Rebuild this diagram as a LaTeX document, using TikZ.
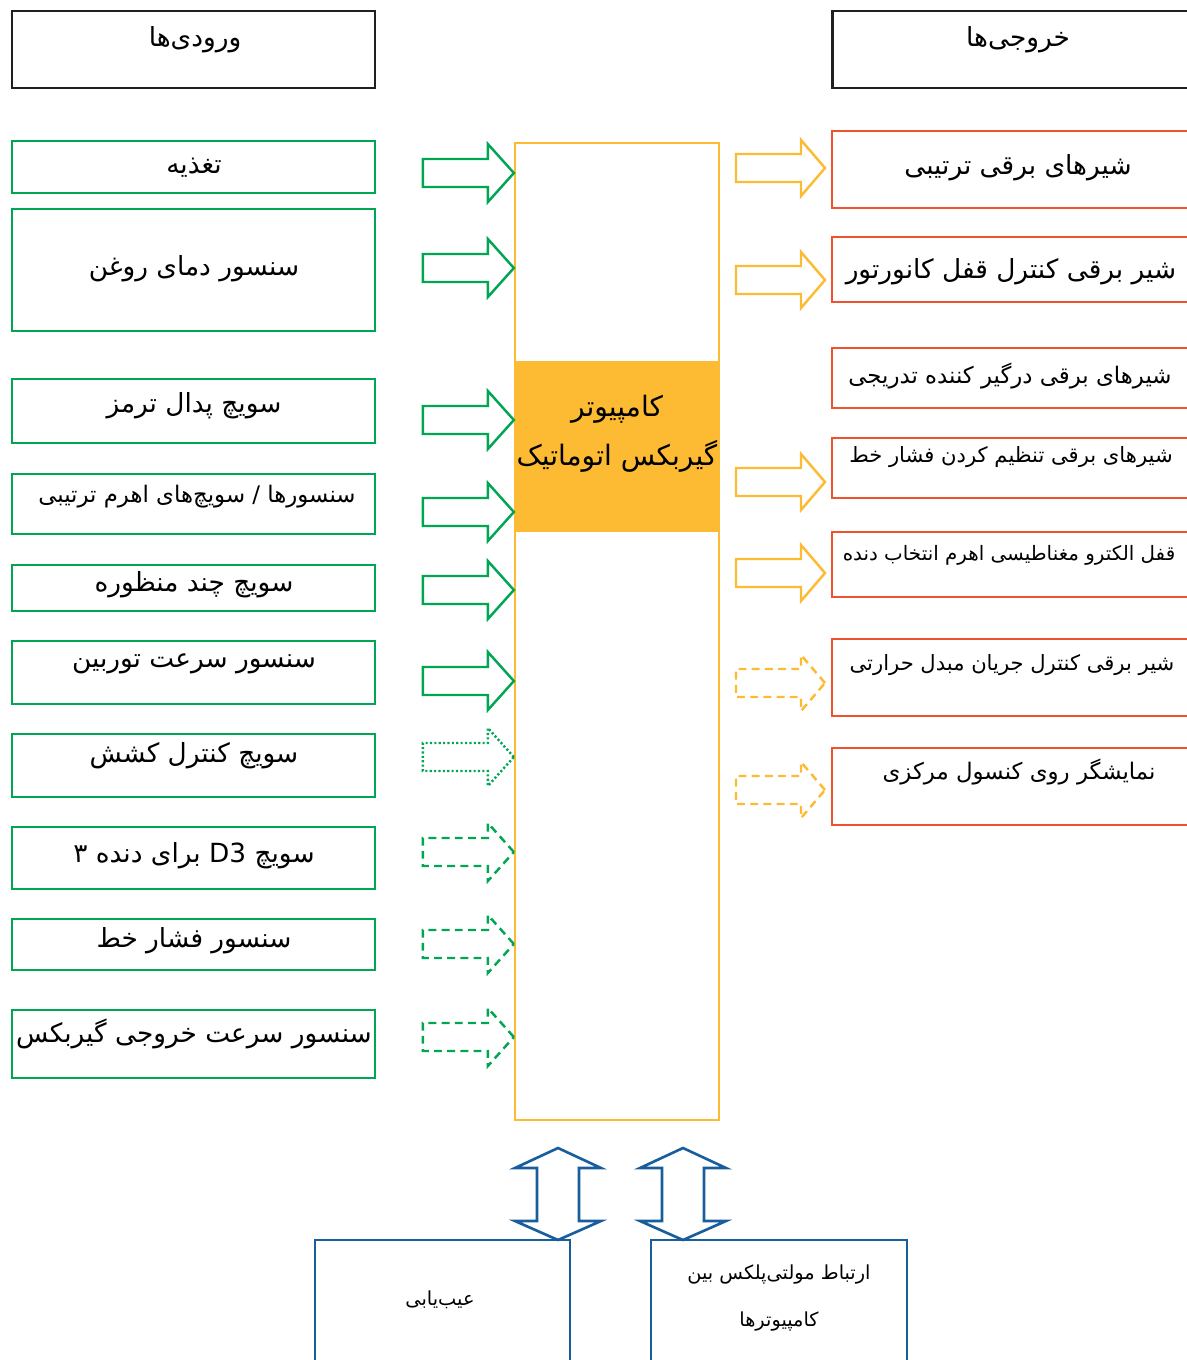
\documentclass[tikz,border=0pt]{standalone}
\usepackage{fontspec}
\newfontfamily\fafont[Script=Arabic]{DejaVu Sans}
\TeXXeTstate=1
\usetikzlibrary{fit}
\definecolor{ingreen}{RGB}{0,166,81}
\definecolor{cpuorange}{RGB}{253,187,51}
\definecolor{outred}{RGB}{239,83,46}
\definecolor{diagblue}{RGB}{24,94,156}
\definecolor{headblack}{RGB}{35,31,32}
\newcommand\fa[1]{\beginR #1\endR}

\begin{document}
\begin{tikzpicture}[
    x=0.02cm,y=-0.02cm,
    every node/.style={font=\fafont\fontsize{15}{18}\selectfont, inner sep=0pt},
    midtxt/.style={font=\fafont\fontsize{13}{16}\selectfont},
    tighttxt/.style={font=\fafont\fontsize{12}{15}\selectfont},
    smalltxt/.style={font=\fafont\fontsize{11}{14}\selectfont},
    hdbox/.style={draw=headblack, line width=1.7pt},
    inbox/.style={draw=ingreen, line width=1.6pt},
    outbox/.style={draw=outred, line width=1.6pt},
    cpubox/.style={draw=cpuorange, line width=1.3pt},
    botbox/.style={draw=diagblue, line width=1.5pt},
    garr/.style={draw=ingreen, line width=1.4pt},
    oarr/.style={draw=cpuorange, line width=1.4pt},
    barr/.style={draw=diagblue, line width=1.5pt},
    dsh/.style={dash pattern=on 4.5pt off 3pt},
    dots/.style={dash pattern=on 1.2pt off 1.3pt}
]
    \useasboundingbox (0,0) rectangle (1187,1360);
    \clip (0,0) rectangle (1187,1360);

    % headers
    \node[hdbox, fit={(12,11) (375,88)}] (inhead) {};
    \node (inheadt) at (195,40) {\fa{ورودی‌ها}};
    \node[hdbox, fit={(832,11) (1200,88)}] (outhead) {};
    \node (outheadt) at (1018,40) {\fa{خروجی‌ها}};

    % inputs
    \node[inbox, fit={(12,141) (375,193)}] (in1) {};
    \node[inbox, fit={(12,209) (375,331)}] (in2) {};
    \node[inbox, fit={(12,379) (375,443)}] (in3) {};
    \node[inbox, fit={(12,474) (375,534)}] (in4) {};
    \node[inbox, fit={(12,565) (375,611)}] (in5) {};
    \node[inbox, fit={(12,641) (375,704)}] (in6) {};
    \node[inbox, fit={(12,734) (375,797)}] (in7) {};
    \node[inbox, fit={(12,827) (375,889)}] (in8) {};
    \node[inbox, fit={(12,919) (375,970)}] (in9) {};
    \node[inbox, fit={(12,1010) (375,1078)}] (in10) {};
    \node (in1t)  at (194,168)  {\fa{تغذیه}};
    \node (in2t)  at (194,269)  {\fa{سنسور دمای روغن}};
    \node (in3t)  at (194,406)  {\fa{سویچ پدال ترمز}};
    \node[midtxt] (in4t) at (197,497) {\fa{سنسورها / سویچ‌های اهرم ترتیبی}};
    \node (in5t)  at (194,585)  {\fa{سویچ چند منظوره}};
    \node (in6t)  at (194,664)  {\fa{سنسور سرعت توربین}};
    \node (in7t)  at (194,756)  {\fa{سویچ کنترل کشش}};
    \node (in8t)  at (194,856)  {\fa{سویچ \beginL D3\endL{} برای دنده ۳}};
    \node (in9t)  at (194,941)  {\fa{سنسور فشار خط}};
    \node (in10t) at (194,1034) {\fa{سنسور سرعت خروجی گیربکس}};

    % computer
    \node[cpubox, fit={(515,143) (719,1120)}] (cpu) {};
    \node[fill=cpuorange, fit={(515,361) (719,532)}] (band) {};
    \node[font=\fafont\fontsize{16}{19}\selectfont] (cput1) at (617,409) {\fa{کامپیوتر}};
    \node[font=\fafont\fontsize{16}{19}\selectfont] (cput2) at (617,456) {\fa{گیربکس اتوماتیک}};

    \foreach \y/\ls in {173/solid,268/solid,420/solid,512/solid,590/solid,681/solid,757/dots,852/dsh,944/dsh,1037/dsh}
        \draw[garr,\ls] (cpu.west |- 0,\y) -- ++(-26,-29) -- ++(0,15) -- ++(-65,0) -- ++(0,28) -- ++(65,0) -- ++(0,15) -- cycle;

    % outputs
    \node[outbox, fit={(832,131) (1200,208)}] (out1) {};
    \node[outbox, fit={(832,237) (1200,302)}] (out2) {};
    \node[outbox, fit={(832,348) (1200,408)}] (out3) {};
    \node[outbox, fit={(832,438) (1200,498)}] (out4) {};
    \node[outbox, fit={(832,532) (1200,597)}] (out5) {};
    \node[outbox, fit={(832,639) (1200,716)}] (out6) {};
    \node[outbox, fit={(832,748) (1200,825)}] (out7) {};
    \node (out1t) at (1018,168) {\fa{شیرهای برقی ترتیبی}};
    \node (out2t) at (1011,272) {\fa{شیر برقی کنترل قفل کانورتور}};
    \node[midtxt] (out3t) at (1010,376) {\fa{شیرهای برقی درگیر کننده تدریجی}};
    \node[tighttxt] (out4t) at (1011,457) {\fa{شیرهای برقی تنظیم کردن فشار خط}};
    \node[font=\fafont\fontsize{11.3}{14}\selectfont] (out5t) at (1009,555) {\fa{قفل الکترو مغناطیسی اهرم انتخاب دنده}};
    \node[tighttxt] (out6t) at (1012,665) {\fa{شیر برقی کنترل جریان مبدل حرارتی}};
    \node[midtxt] (out7t) at (1019,772) {\fa{نمایشگر روی کنسول مرکزی}};

    \foreach \y/\ls in {168/solid,280/solid,482/solid,573/solid,683/dsh,790/dsh}
        \draw[oarr,\ls] (825,\y) -- ++(-24,-28) -- ++(0,14) -- ++(-65,0) -- ++(0,28) -- ++(65,0) -- ++(0,14) -- cycle;

    % bottom
    \node[botbox, fit={(315,1240) (570,1380)}] (diag) {};
    \node[botbox, fit={(651,1240) (907,1380)}] (mux) {};
    \node[smalltxt] (diagt) at (440,1300) {\fa{عیب‌یابی}};
    \node[smalltxt] (muxt1) at (779,1275) {\fa{ارتباط مولتی‌پلکس بین}};
    \node[smalltxt] (muxt2) at (779,1322) {\fa{کامپیوترها}};

    \foreach \x in {558,683}
        \draw[barr] (\x,1148) -- ++(43,20) -- ++(-22,0) -- ++(0,53) -- ++(22,0) -- ++(-43,19) -- ++(-43,-19) -- ++(22,0) -- ++(0,-53) -- ++(-22,0) -- cycle;
\end{tikzpicture}
\end{document}
